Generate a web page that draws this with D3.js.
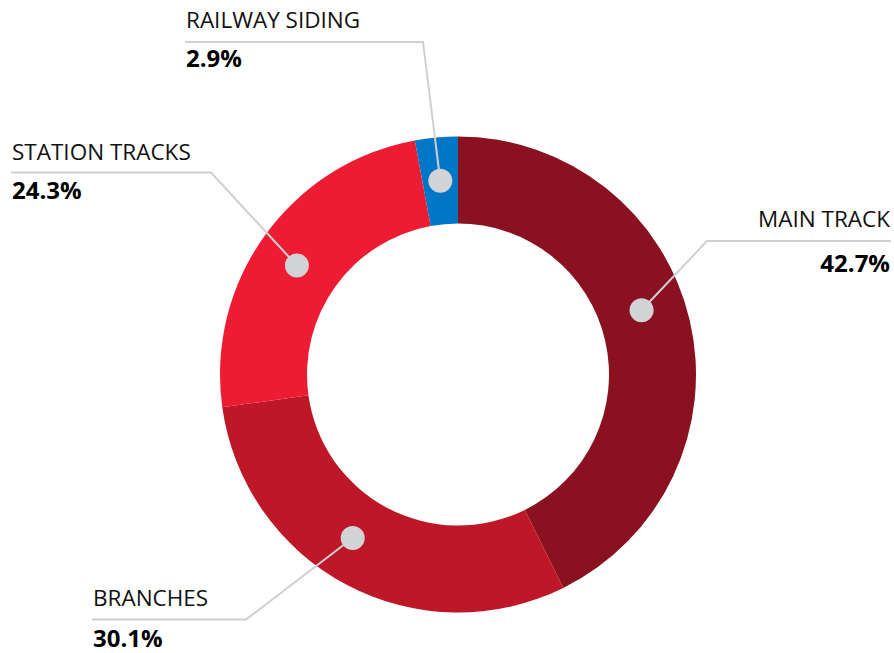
<!DOCTYPE html>
<html>
<head>
<meta charset="utf-8">
<script src="https://cdn.jsdelivr.net/npm/d3@7"></script>
<style>
  html, body { margin: 0; padding: 0; background: #fff; }
  svg { display: block; }
</style>
</head>
<body>
<svg id="chart" width="894" height="653"></svg>
<script>
// ---- data ----
const categories = ["MAIN TRACK", "BRANCHES", "STATION TRACKS", "RAILWAY SIDING"];
const values = [42.7, 30.1, 24.3, 2.9];
const valueLabels = ["42.7%", "30.1%", "24.3%", "2.9%"];

// ---- styles / layout ----
const colors = ["#8A1220", "#BE1828", "#EE1C33", "#0076C6"];
const cx = 458, cy = 374.5, outerR = 238, innerR = 151;
// position of the marker dot within each slice (0 = start, 1 = end)
const dotT = [0.46, 0.545, 0.48, 0.5];
// label layout
const labelLayout = [
  { x: 890, labelY: 227, lineY: 241, valueY: 272, lx1: 891, lx2: 707, anchor: "end" },
  { x: 93,  labelY: 606, lineY: 619.5, valueY: 647, lx1: 92, lx2: 246, anchor: "start" },
  { x: 12,  labelY: 160, lineY: 172.5, valueY: 199, lx1: 11, lx2: 211, anchor: "start" },
  { x: 186, labelY: 28,  lineY: 42, valueY: 67, lx1: 185, lx2: 423, anchor: "start" }
];

const svg = d3.select("#chart");
const g = svg.append("g").attr("transform", `translate(${cx},${cy})`);

const pie = d3.pie().sort(null).value(d => d)(values);
const arc = d3.arc().innerRadius(innerR).outerRadius(outerR);

g.selectAll("path.slice")
  .data(pie)
  .join("path")
  .attr("class", "slice")
  .attr("d", arc)
  .attr("fill", (d, i) => colors[i]);

const midR = (innerR + outerR) / 2;
const dots = pie.map((d, i) => {
  const a = d.startAngle + (d.endAngle - d.startAngle) * dotT[i];
  return [cx + midR * Math.sin(a), cy - midR * Math.cos(a)];
});

// leader lines
pie.forEach((d, i) => {
  const L = labelLayout[i];
  const p = dots[i];
  svg.append("polyline")
    .attr("points", `${L.lx1},${L.lineY} ${L.lx2},${L.lineY} ${p[0]},${p[1]}`)
    .attr("fill", "none")
    .attr("stroke", "#cfd0d2")
    .attr("stroke-width", 2);
});

// dots
svg.selectAll("circle.dot")
  .data(dots)
  .join("circle")
  .attr("class", "dot")
  .attr("cx", d => d[0])
  .attr("cy", d => d[1])
  .attr("r", 12)
  .attr("fill", "#d1d3d4");

// labels
categories.forEach((c, i) => {
  const L = labelLayout[i];
  svg.append("text")
    .attr("x", L.x).attr("y", L.labelY)
    .attr("text-anchor", L.anchor)
    .attr("font-family", "'Open Sans', 'Noto Sans', sans-serif")
    .attr("font-size", 22.5)
    .attr("fill", "#111")
    .text(c);
  svg.append("text")
    .attr("x", L.x).attr("y", L.valueY)
    .attr("text-anchor", L.anchor)
    .attr("font-family", "'Open Sans', 'Noto Sans', sans-serif")
    .attr("font-size", 24)
    .attr("font-weight", 700)
    .attr("fill", "#000")
    .text(valueLabels[i]);
});
</script>
</body>
</html>
